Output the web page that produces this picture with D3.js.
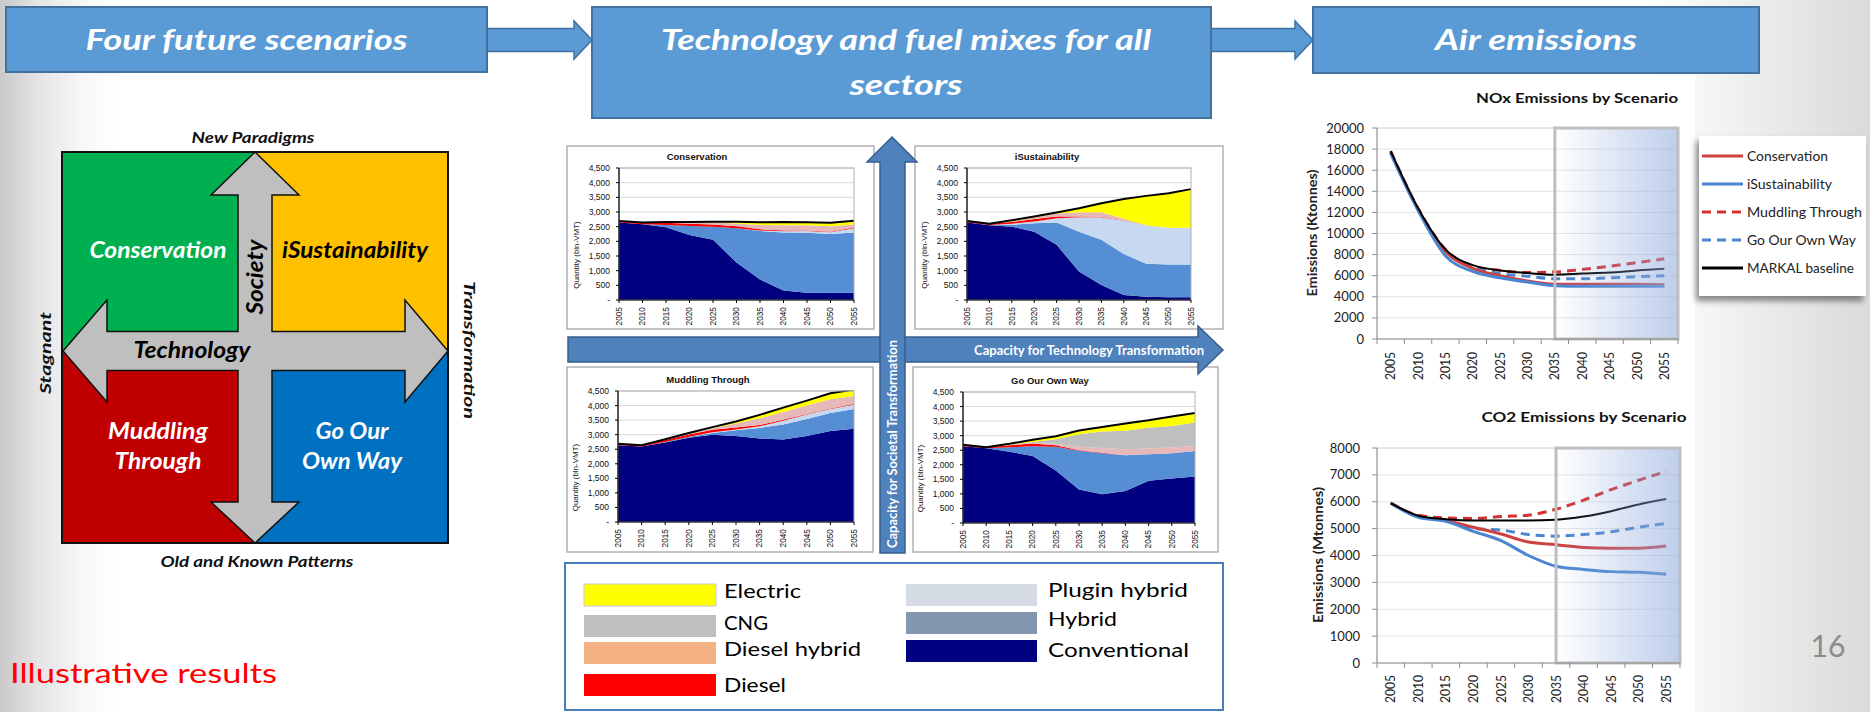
<!DOCTYPE html>
<html><head><meta charset="utf-8">
<script src="https://cdn.jsdelivr.net/npm/d3@7"></script>
<style>html,body{margin:0;padding:0;background:#fff}svg{display:block}</style>
</head><body>
<svg id="chart"></svg>
<script>
// ---------------- DATA ----------------
const years = [2005, 2010, 2015, 2020, 2025, 2030, 2035, 2040, 2045, 2050, 2055];

// technology layers (stack order bottom -> top)
const techNames = ["Conventional", "Hybrid", "Plugin hybrid", "Diesel", "Diesel hybrid", "CNG", "Electric"];
const techChartColors = ["#000080", "#558ed5", "#c6d9f1", "#ff0000", "#e6b9b8", "#bfbfbf", "#ffff00"];

// legend (two columns)
const legendCol1 = ["Electric", "CNG", "Diesel hybrid", "Diesel"];
const legendCol1Colors = ["#ffff00", "#bfbfbf", "#f4b183", "#ff0000"];
const legendCol2 = ["Plugin hybrid", "Hybrid", "Conventional"];
const legendCol2Colors = ["#d6dce5", "#8497b0", "#000080"];

// quantity (bln-VMT) per technology, rows in techNames order
const conservationMix = [
  [2640, 2580, 2480, 2220, 2050, 1280, 700, 320, 250, 250, 250],
  [0, 0, 80, 300, 450, 1170, 1650, 1980, 2040, 2000, 2050],
  [0, 0, 0, 0, 0, 0, 20, 40, 60, 60, 150],
  [50, 60, 70, 80, 70, 60, 40, 30, 20, 20, 20],
  [0, 0, 30, 60, 80, 100, 150, 180, 180, 180, 100],
  [0, 0, 0, 0, 0, 0, 0, 0, 0, 0, 0],
  [0, 0, 0, 0, 20, 60, 90, 110, 100, 120, 130]
];
const iSustainabilityMix = [
  [2640, 2550, 2500, 2330, 1880, 970, 510, 170, 110, 90, 90],
  [0, 10, 60, 290, 760, 1360, 1540, 1400, 1130, 1120, 1120],
  [0, 0, 40, 60, 150, 490, 770, 1130, 1290, 1250, 1250],
  [50, 40, 60, 80, 60, 30, 20, 10, 0, 0, 0],
  [0, 0, 20, 60, 100, 140, 150, 60, 20, 0, 0],
  [0, 0, 0, 0, 0, 0, 0, 0, 0, 0, 0],
  [0, 0, 40, 30, 35, 140, 310, 670, 1000, 1180, 1320]
];
const muddlingMix = [
  [2640, 2590, 2730, 2890, 3000, 2950, 2870, 2830, 2950, 3130, 3200],
  [0, 0, 20, 40, 60, 200, 360, 520, 590, 610, 680],
  [0, 0, 0, 0, 20, 30, 60, 130, 150, 140, 150],
  [50, 50, 70, 80, 90, 70, 40, 30, 20, 20, 20],
  [0, 0, 20, 40, 60, 130, 230, 270, 290, 320, 280],
  [0, 0, 0, 0, 0, 0, 0, 0, 0, 0, 0],
  [0, 0, 0, 10, 30, 70, 120, 150, 170, 200, 220]
];
const goOurOwnWayMix = [
  [2640, 2570, 2450, 2300, 1800, 1150, 990, 1100, 1450, 1530, 1600],
  [0, 0, 150, 340, 820, 1330, 1410, 1230, 910, 870, 870],
  [0, 0, 0, 0, 0, 0, 0, 0, 0, 0, 0],
  [50, 30, 70, 90, 50, 20, 10, 0, 0, 0, 0],
  [0, 0, 20, 20, 50, 120, 170, 200, 200, 190, 180],
  [0, 0, 0, 30, 160, 430, 560, 640, 710, 740, 800],
  [0, 0, 30, 80, 100, 130, 160, 250, 260, 330, 330]
];
const mixTicks = [0, 500, 1000, 1500, 2000, 2500, 3000, 3500, 4000, 4500];

// emissions
const scenarioNames = ["Conservation", "iSustainability", "Muddling Through", "Go Our Own Way", "MARKAL baseline"];
const scenarioColors = ["#cf4040", "#4a86d0", "#d63030", "#4a86d0", "#000000"];
const scenarioDash = [null, null, "9,6", "9,6", null];

const noxConservation    = [17700, 12300, 8300, 6700, 6000, 5500, 5200, 5200, 5200, 5200, 5150];
const noxISustainability = [17600, 12200, 7900, 6400, 5800, 5400, 5050, 5000, 5000, 5000, 5000];
const noxMuddling        = [17800, 12400, 8500, 6900, 6500, 6300, 6350, 6600, 6900, 7250, 7600];
const noxGoOurOwnWay     = [17700, 12300, 8300, 6800, 6200, 5950, 5700, 5700, 5800, 5900, 6000];
const noxBaseline        = [17800, 12400, 8500, 7000, 6500, 6250, 6100, 6200, 6300, 6500, 6650];
const noxTicks = [0, 2000, 4000, 6000, 8000, 10000, 12000, 14000, 16000, 18000, 20000];

const co2Conservation    = [5950, 5450, 5300, 5050, 4800, 4500, 4400, 4300, 4270, 4270, 4350];
const co2ISustainability = [5950, 5420, 5270, 4900, 4550, 4000, 3600, 3480, 3400, 3380, 3300];
const co2Muddling        = [5950, 5500, 5400, 5380, 5450, 5500, 5720, 6060, 6450, 6800, 7130];
const co2GoOurOwnWay     = [5950, 5450, 5300, 5000, 4950, 4780, 4720, 4780, 4880, 5050, 5190];
const co2Baseline        = [5950, 5480, 5350, 5300, 5300, 5300, 5330, 5450, 5650, 5900, 6100];
const co2Ticks = [0, 1000, 2000, 3000, 4000, 5000, 6000, 7000, 8000];

// ---------------- DRAWING ----------------
const W = 1870, H = 712;
const calibri = "Lato, 'Open Sans', 'DejaVu Sans', sans-serif";
const arial = "'Liberation Sans', Arial, sans-serif";
const svg = d3.select("#chart").attr("width", W).attr("height", H);
const defs = svg.append("defs");

function grad(id, stops, horiz = true) {
  const g = defs.append("linearGradient").attr("id", id)
    .attr("x1", 0).attr("y1", 0).attr("x2", horiz ? 1 : 0).attr("y2", horiz ? 0 : 1);
  stops.forEach(s => g.append("stop").attr("offset", s[0]).attr("stop-color", s[1]).attr("stop-opacity", s[2] == null ? 1 : s[2]));
}
grad("bgGrad", [[0, "#c9c9c9"], [0.02, "#e4e4e4"], [0.045, "#f8f8f8"], [0.065, "#ffffff"], [0.88, "#ffffff"], [1, "#dadada"]]);
grad("shade", [[0, "#8faadc", 0], [1, "#8faadc", 0.58]]);
const flt = defs.append("filter").attr("id", "shadow").attr("x", "-20%").attr("y", "-20%").attr("width", "140%").attr("height", "150%");
flt.append("feDropShadow").attr("dx", -3).attr("dy", 5).attr("stdDeviation", 3).attr("flood-color", "#000").attr("flood-opacity", 0.45);

svg.append("rect").attr("width", W).attr("height", H).attr("fill", "url(#bgGrad)");

function label(g, txt, x, y, o = {}) {
  const t = g.append("text").attr("x", x).attr("y", y).text(txt)
    .attr("font-family", o.family || calibri)
    .attr("font-size", o.size || 12)
    .attr("font-weight", o.weight || 400)
    .attr("font-style", o.italic ? "italic" : "normal")
    .attr("fill", o.fill || "#000")
    .attr("text-anchor", o.anchor || "middle");
  if (o.dy) t.attr("dy", o.dy);
  if (o.rotate) t.attr("transform", `rotate(${o.rotate},${x},${y})`);
  if (o.len) t.attr("textLength", o.len).attr("lengthAdjust", "spacingAndGlyphs");
  return t;
}
function poly(g, pts, fill, stroke, sw) {
  return g.append("path").attr("d", d3.line()(pts) + "Z").attr("fill", fill).attr("stroke", stroke).attr("stroke-width", sw).attr("stroke-linejoin", "miter");
}

// ---------- top header boxes ----------
const hdr = svg.append("g");
const hdrFill = "#5b9bd5", hdrStroke = "#41719c";
function hdrBox(x0, y0, x1, y1) {
  hdr.append("rect").attr("x", x0).attr("y", y0).attr("width", x1 - x0).attr("height", y1 - y0)
    .attr("fill", hdrFill).attr("stroke", hdrStroke).attr("stroke-width", 2);
}
function hdrArrow(x0, x1, cy) {
  poly(hdr, [[x0, cy - 11.5], [x1 - 18, cy - 11.5], [x1 - 18, cy - 19], [x1, cy], [x1 - 18, cy + 19], [x1 - 18, cy + 11.5], [x0, cy + 11.5]], hdrFill, hdrStroke, 1.5);
}
hdrArrow(487, 592, 40);
hdrArrow(1211, 1313, 40);
hdrBox(6, 7, 487, 72);
hdrBox(592, 7, 1211, 118);
hdrBox(1313, 7, 1759, 73);
const hdrTxt = { size: 29, weight: 700, italic: true, fill: "#fff" };
label(hdr, "Four future scenarios", 246.5, 50, { ...hdrTxt, len: 322 });
label(hdr, "Technology and fuel mixes for all", 906, 50, { ...hdrTxt, len: 490 });
label(hdr, "sectors", 906, 95, { ...hdrTxt, len: 113 });
label(hdr, "Air emissions", 1536, 50, { ...hdrTxt, len: 202 });

// ---------- quadrant diagram ----------
const q = svg.append("g");
const qx0 = 62, qx1 = 448, qy0 = 152, qy1 = 543, qcx = 255, qcy = 351;
q.append("rect").attr("x", qx0).attr("y", qy0).attr("width", qcx - qx0).attr("height", qcy - qy0).attr("fill", "#00b050");
q.append("rect").attr("x", qcx).attr("y", qy0).attr("width", qx1 - qcx).attr("height", qcy - qy0).attr("fill", "#ffc000");
q.append("rect").attr("x", qx0).attr("y", qcy).attr("width", qcx - qx0).attr("height", qy1 - qcy).attr("fill", "#c00000");
q.append("rect").attr("x", qcx).attr("y", qcy).attr("width", qx1 - qcx).attr("height", qy1 - qcy).attr("fill", "#0070c0");
q.append("rect").attr("x", qx0).attr("y", qy0).attr("width", qx1 - qx0).attr("height", qy1 - qy0).attr("fill", "none").attr("stroke", "#111").attr("stroke-width", 2);
poly(q, [
  [qcx, qy0], [qcx + 44, 195], [qcx + 17, 195], [qcx + 17, qcy - 19.5], [405, qcy - 19.5], [405, qcy - 51],
  [qx1, qcy], [405, qcy + 51], [405, qcy + 19.5], [qcx + 17, qcy + 19.5], [qcx + 17, 502], [qcx + 44, 502],
  [qcx, qy1], [qcx - 44, 502], [qcx - 17, 502], [qcx - 17, qcy + 19.5], [107, qcy + 19.5], [107, qcy + 51],
  [qx0 + 1, qcy], [107, qcy - 51], [107, qcy - 19.5], [qcx - 17, qcy - 19.5], [qcx - 17, 195], [qcx - 44, 195]
], "#bfbfbf", "#111", 1.5);
const qt = { size: 22, weight: 700, italic: true };
label(q, "Conservation", 158, 258, { ...qt, fill: "#fff", len: 137 });
label(q, "iSustainability", 355, 258, { ...qt, fill: "#000", len: 146 });
label(q, "Technology", 192, 358, { ...qt, fill: "#000", len: 117 });
label(q, "Society", 263, 277, { ...qt, fill: "#000", len: 75, rotate: -90 });
label(q, "Muddling", 158, 439, { ...qt, fill: "#fff", len: 100 });
label(q, "Through", 158, 469, { ...qt, fill: "#fff", len: 87 });
label(q, "Go Our", 352, 439, { ...qt, fill: "#fff", len: 73 });
label(q, "Own Way", 352, 469, { ...qt, fill: "#fff", len: 100 });
const et = { size: 15, weight: 700, italic: true, fill: "#111" };
label(q, "New Paradigms", 253, 143, { ...et, len: 123 });
label(q, "Old and Known Patterns", 257, 567, { ...et, len: 193 });
label(q, "Stagnant", 51, 353, { ...et, len: 82, rotate: -90 });
label(q, "Transformation", 464, 350, { ...et, len: 138, rotate: 90 });

// ---------- technology mix charts ----------
const fmtQ = d => d === 0 ? "-" : d3.format(",")(d);
let clipN = 0;
function mixChart(cfg) {
  const g = svg.append("g");
  const [bx0, by0, bx1, by1] = cfg.box;
  const [L, T, R, B] = cfg.plot;
  g.append("rect").attr("x", bx0).attr("y", by0).attr("width", bx1 - bx0).attr("height", by1 - by0)
    .attr("fill", "#fff").attr("stroke", "#a6a6a6").attr("stroke-width", 1.3);
  const x = d3.scalePoint().domain(years).range([L, R]);
  const y = d3.scaleLinear().domain([0, 4500]).range([B, T]);
  g.selectAll(null).data(mixTicks.slice(1)).join("line")
    .attr("x1", L).attr("x2", R).attr("y1", d => y(d)).attr("y2", d => y(d))
    .attr("stroke", "#d4d4d4").attr("stroke-width", 0.9);
  const rows = years.map((yr, i) => { const r = { year: yr }; techNames.forEach((k, j) => r[k] = cfg.data[j][i]); return r; });
  const series = d3.stack().keys(techNames)(rows);
  const cid = "clip" + (clipN++);
  defs.append("clipPath").attr("id", cid).append("rect").attr("x", L).attr("y", T - 0.5).attr("width", R - L + 1).attr("height", B - T + 0.5);
  const area = d3.area().x(d => x(d.data.year)).y0(d => y(d[0])).y1(d => y(d[1]));
  const cg = g.append("g").attr("clip-path", `url(#${cid})`);
  cg.selectAll("path.layer").data(series).join("path").attr("class", "layer")
    .attr("d", area).attr("fill", (d, i) => techChartColors[i]);
  const totLine = d3.line().x(d => x(d.year)).y(d => y(d3.sum(techNames, k => d[k])));
  cg.append("path").datum(rows).attr("d", totLine).attr("fill", "none").attr("stroke", "#000").attr("stroke-width", 2);
  // plot border
  g.append("rect").attr("x", L).attr("y", T).attr("width", R - L).attr("height", B - T)
    .attr("fill", "none").attr("stroke", "#b0b0b0").attr("stroke-width", 1);
  g.append("line").attr("x1", L).attr("x2", L).attr("y1", T).attr("y2", B).attr("stroke", "#000").attr("stroke-width", 1.2);
  g.append("line").attr("x1", L).attr("x2", R).attr("y1", B).attr("y2", B).attr("stroke", "#000").attr("stroke-width", 1.2);
  // y ticks & labels
  g.selectAll(null).data(mixTicks).join("line")
    .attr("x1", L - 3).attr("x2", L).attr("y1", d => y(d)).attr("y2", d => y(d)).attr("stroke", "#000");
  mixTicks.forEach(t => label(g, fmtQ(t), L - 9, y(t), { family: arial, size: 8.5, anchor: "end", dy: "0.35em", fill: "#111" }));
  // x ticks & labels
  g.selectAll(null).data(years).join("line")
    .attr("x1", d => x(d)).attr("x2", d => x(d)).attr("y1", B).attr("y2", B + 3).attr("stroke", "#000");
  years.forEach(yr => label(g, String(yr), x(yr), B + 7, { family: arial, size: 8.3, anchor: "end", dy: "0.35em", rotate: -90, fill: "#111" }));
  label(g, cfg.title, cfg.titleX, cfg.titleY, { family: arial, size: 9.5, weight: 700, fill: "#111" });
  label(g, "Quantity (bln-VMT)", L - 40, (T + B) / 2 + 21, { family: arial, size: 8, rotate: -90, fill: "#111" });
}
mixChart({ title: "Conservation", titleX: 697, titleY: 160, box: [567, 146, 874, 329], plot: [619, 168, 854, 300], data: conservationMix });
mixChart({ title: "iSustainability", titleX: 1047, titleY: 160, box: [915, 146, 1223, 329], plot: [967, 168, 1191, 300], data: iSustainabilityMix });
mixChart({ title: "Muddling Through", titleX: 708, titleY: 383, box: [567, 367, 873, 552], plot: [618, 391, 854, 522], data: muddlingMix });
mixChart({ title: "Go Our Own Way", titleX: 1050, titleY: 384, box: [913, 367, 1218, 552], plot: [963, 392, 1195, 523], data: goOurOwnWayMix });

// ---------- big transformation arrows ----------
const arr = svg.append("g");
const bigFill = "#4f81bd", bigStroke = "#385d8a";
poly(arr, [[568, 337], [1198, 337], [1198, 326], [1223, 350], [1198, 374], [1198, 362], [568, 362]], bigFill, bigStroke, 1.5);
label(arr, "Capacity for Technology Transformation", 1089, 354.5, { size: 14, weight: 700, fill: "#fff", len: 230 });
poly(arr, [[892, 137], [917, 162], [905, 162], [905, 553], [880, 553], [880, 162], [867, 162]], bigFill, bigStroke, 1.5);
label(arr, "Capacity for Societal Transformation", 897, 444, { size: 14, weight: 700, fill: "#fff", len: 208, rotate: -90 });

// ---------- technology legend ----------
const lg = svg.append("g");
lg.append("rect").attr("x", 565).attr("y", 563).attr("width", 658).attr("height", 147)
  .attr("fill", "#fff").attr("stroke", "#4a7ebb").attr("stroke-width", 2);
const col1Y = [584, 615, 642, 674], col1Base = [598, 630, 656, 692], col1Len = [77, 44, 137, 62];
legendCol1.forEach((n, i) => {
  lg.append("rect").attr("x", 584).attr("y", col1Y[i]).attr("width", 132).attr("height", 22)
    .attr("fill", legendCol1Colors[i]).attr("stroke", i === 0 ? "#c8c8c8" : "none");
  label(lg, n, 724, col1Base[i], { size: 19, anchor: "start", len: col1Len[i] });
});
const col2Y = [584, 612, 640], col2Base = [597, 626, 657], col2Len = [140, 69, 141];
legendCol2.forEach((n, i) => {
  lg.append("rect").attr("x", 906).attr("y", col2Y[i]).attr("width", 131).attr("height", 22).attr("fill", legendCol2Colors[i]);
  label(lg, n, 1048, col2Base[i], { size: 19, anchor: "start", len: col2Len[i] });
});

// ---------- emission charts ----------
svg.append("rect").attr("x", 1290).attr("y", 76).attr("width", 405).attr("height", 636).attr("fill", "#fff");
function emissionChart(cfg) {
  const g = svg.append("g");
  const [L, T, R, B] = cfg.plot;
  const x = d3.scaleBand().domain(years).range([L, R]);
  const bw = x.bandwidth();
  const yMax = cfg.ticks[cfg.ticks.length - 1];
  const y = d3.scaleLinear().domain([0, yMax]).range([B, T]);
  g.selectAll(null).data(cfg.ticks.slice(1)).join("line")
    .attr("x1", L).attr("x2", R).attr("y1", d => y(d)).attr("y2", d => y(d)).attr("stroke", "#e4e4e4").attr("stroke-width", 1);
  g.append("rect").attr("x", L).attr("y", T).attr("width", R - L).attr("height", B - T).attr("fill", "none").attr("stroke", "#d9d9d9");
  const line = d3.line().x((d, i) => x(years[i]) + bw / 2).y(d => y(d)).curve(d3.curveMonotoneX);
  [2, 3, 0, 1, 4].forEach(i => {
    g.append("path").datum(cfg.series[i]).attr("d", line).attr("fill", "none")
      .attr("stroke", scenarioColors[i]).attr("stroke-width", i === 4 ? 2 : 3)
      .attr("stroke-dasharray", scenarioDash[i]).attr("stroke-linecap", "butt");
  });
  const sx = x(2035) + bw / 2;
  g.append("rect").attr("x", sx).attr("y", T).attr("width", R - sx).attr("height", B - T).attr("fill", "url(#shade)");
  g.append("rect").attr("x", sx).attr("y", T).attr("width", R - sx).attr("height", B - T)
    .attr("fill", "none").attr("stroke", "#bfbfbf").attr("stroke-width", 3);
  // axes
  g.append("line").attr("x1", L).attr("x2", L).attr("y1", T).attr("y2", B).attr("stroke", "#8c8c8c");
  g.append("line").attr("x1", L).attr("x2", R).attr("y1", B).attr("y2", B).attr("stroke", "#8c8c8c");
  g.selectAll(null).data(cfg.ticks).join("line")
    .attr("x1", L - 5).attr("x2", L).attr("y1", d => y(d)).attr("y2", d => y(d)).attr("stroke", "#8c8c8c");
  const bounds = years.map(yr => x(yr)).concat([R]);
  g.selectAll(null).data(bounds).join("line")
    .attr("x1", d => d).attr("x2", d => d).attr("y1", B).attr("y2", B + 5).attr("stroke", "#8c8c8c");
  cfg.ticks.forEach(t => label(g, String(t), cfg.yLabelX, y(t), { size: 13, anchor: "end", dy: "0.35em", fill: "#222" }));
  years.forEach(yr => label(g, String(yr), x(yr) + bw / 2, cfg.xLabelY, { size: 13, anchor: "end", dy: "0.35em", rotate: -90, fill: "#222", len: 28 }));
  label(g, cfg.title, cfg.titleX, cfg.titleY, { size: 14, weight: 700, fill: "#111", len: cfg.titleLen });
  label(g, cfg.yTitle, cfg.yTitleX, cfg.yTitleY, { size: 13, weight: 700, fill: "#222", rotate: -90, len: cfg.yTitleLen });
}
emissionChart({
  plot: [1377, 128, 1678, 339], ticks: noxTicks,
  series: [noxConservation, noxISustainability, noxMuddling, noxGoOurOwnWay, noxBaseline],
  yLabelX: 1364, xLabelY: 352,
  title: "NOx Emissions by Scenario", titleX: 1577, titleY: 103, titleLen: 202,
  yTitle: "Emissions (Ktonnes)", yTitleX: 1317, yTitleY: 233, yTitleLen: 127
});
emissionChart({
  plot: [1377, 448, 1680, 663], ticks: co2Ticks,
  series: [co2Conservation, co2ISustainability, co2Muddling, co2GoOurOwnWay, co2Baseline],
  yLabelX: 1360, xLabelY: 675,
  title: "CO2 Emissions by Scenario", titleX: 1584, titleY: 422, titleLen: 205,
  yTitle: "Emissions (Mtonnes)", yTitleX: 1323, yTitleY: 555, yTitleLen: 136
});

// NOx legend
const el = svg.append("g");
el.append("rect").attr("x", 1699).attr("y", 136).attr("width", 167).attr("height", 160).attr("fill", "#fff").attr("filter", "url(#shadow)");
const legRowY = [156, 184, 212, 240, 268], legLen = [81, 85, 115, 109, 107];
scenarioNames.forEach((n, i) => {
  el.append("line").attr("x1", 1702).attr("x2", 1743).attr("y1", legRowY[i]).attr("y2", legRowY[i])
    .attr("stroke", scenarioColors[i]).attr("stroke-width", 3).attr("stroke-dasharray", scenarioDash[i]);
  label(el, n, 1747, legRowY[i] + 5, { size: 13, anchor: "start", fill: "#222", len: legLen[i] });
});

// ---------- footer texts ----------
label(svg, "Illustrative results", 10, 683, { size: 26, anchor: "start", fill: "#ff0000", len: 267 });
label(svg, "16", 1828, 657, { size: 30, fill: "#8c8c8c", len: 35 });
</script>
</body></html>
